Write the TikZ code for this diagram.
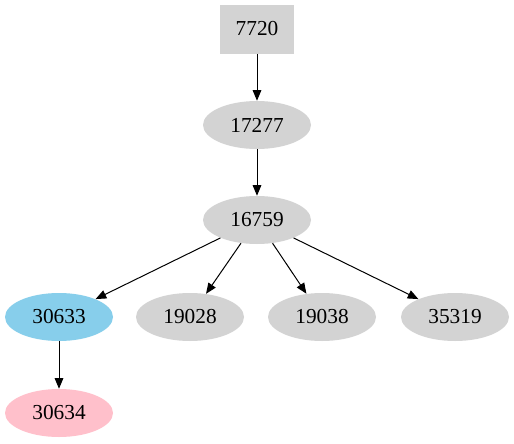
\documentclass[tikz,border=0pt]{standalone}
\usepackage{fontspec}
\setmainfont{Liberation Serif}
\usetikzlibrary{shapes.geometric,arrows.meta}
\definecolor{lgray}{HTML}{D3D3D3}
\definecolor{sky}{HTML}{87CEEB}
\definecolor{pinkc}{HTML}{FFC0CB}
\tikzset{
  ell/.style={ellipse, fill=lgray, draw=none, minimum width=81pt, minimum height=36pt, inner sep=0pt, font=\fontsize{16}{19}\selectfont},
  boxn/.style={rectangle, fill=lgray, draw=none, minimum width=55.5pt, minimum height=36.75pt, inner sep=0pt, font=\fontsize{16}{19}\selectfont},
  edge/.style={draw=black, line width=0.75pt, -{Triangle[length=8pt, width=6.5pt]}}
}
\begin{document}
\begin{tikzpicture}[x=0.75pt, y=-0.75pt]
\path[use as bounding box, fill=white] (0,0) rectangle (514,443);
\node[boxn] (n7720) at (257,29) {7720};
\node[ell] (n17277) at (257,125) {17277};
\node[ell] (n16759) at (257,220) {16759};
\node[ell, fill=sky] (n30633) at (59,317) {30633};
\node[ell] (n19028) at (190,317) {19028};
\node[ell] (n19038) at (322,317) {19038};
\node[ell] (n35319) at (455,317) {35319};
\node[ell, fill=pinkc] (n30634) at (59,413) {30634};
\draw[edge] (n7720) -- (n17277);
\draw[edge] (n17277) -- (n16759);
\draw[edge] (n16759) -- (n30633);
\draw[edge] (n16759) -- (n19028);
\draw[edge] (n16759) -- (n19038);
\draw[edge] (n16759) -- (n35319);
\draw[edge] (n30633) -- (n30634);
\end{tikzpicture}
\end{document}
